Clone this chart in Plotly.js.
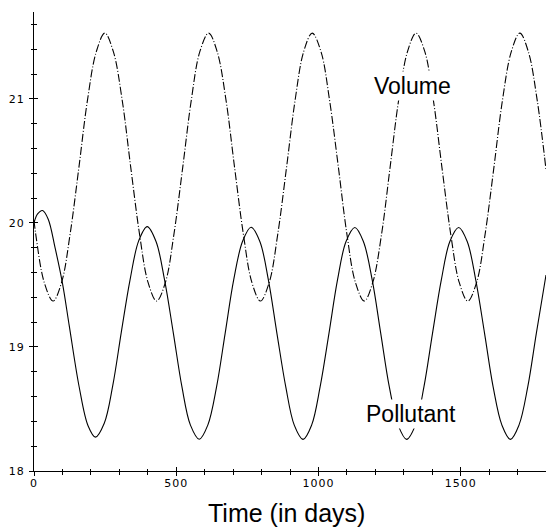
<!DOCTYPE html>
<html>
<head>
<meta charset="utf-8">
<script src="https://cdn.plot.ly/plotly-3.0.1.min.js"></script>
<style>
  html, body { margin: 0; padding: 0; background: #ffffff; }
  #chart { width: 546px; height: 529px; }
  .xtick text, .ytick text { letter-spacing: 1px; }
</style>
</head>
<body>
<div id="chart"></div>
<script>
// Volume curve (dash-dot)
var volumeT = [0, 6, 36, 67, 97, 127, 158, 188, 219, 249, 279, 310, 340, 371, 401, 431, 462, 492, 523, 553, 583, 614,
  644, 675, 705, 736, 766, 796, 827, 857, 888, 918, 948, 978,
  1009, 1039, 1070, 1100, 1130, 1161, 1191, 1222, 1252, 1282, 1313, 1343,
  1374, 1404, 1434, 1465, 1495, 1525, 1556, 1586, 1617, 1647, 1678, 1708,
  1738, 1769, 1800];
var volumeV = [20.02, 19.91, 19.52, 19.37, 19.52, 19.91, 20.45, 20.99, 21.38, 21.53, 21.38, 20.99, 20.45, 19.91, 19.52, 19.37, 19.52, 19.91, 20.45, 20.99, 21.38, 21.53,
  21.38, 20.99, 20.45, 19.91, 19.52, 19.37, 19.52, 19.91, 20.45, 20.99, 21.38, 21.53,
  21.38, 20.99, 20.45, 19.91, 19.52, 19.37, 19.52, 19.91, 20.45, 20.99, 21.38, 21.53,
  21.38, 20.99, 20.45, 19.91, 19.52, 19.37, 19.52, 19.91, 20.45, 20.99, 21.38, 21.53,
  21.38, 20.99, 20.43];

// Pollutant curve (solid)
var pollutantT = [0, 12, 30, 50, 74, 100, 124, 159, 190, 216, 247, 277, 307, 338, 368, 398,
  429, 459, 490, 520, 550, 581, 611, 642, 672, 702, 733, 763,
  794, 824, 854, 885, 915, 946, 976, 1006, 1037, 1067, 1097, 1128,
  1158, 1189, 1219, 1249, 1280, 1310, 1341, 1371, 1401, 1432, 1462, 1493,
  1523, 1553, 1584, 1614, 1645, 1675, 1705, 1736, 1766, 1800];
var pollutantV = [20.00, 20.07, 20.10, 20.03, 19.80, 19.515, 19.17, 18.675, 18.365, 18.273, 18.385, 18.69, 19.12, 19.545, 19.855, 19.97,
  19.85, 19.54, 19.11, 18.68, 18.37, 18.256, 18.37, 18.68, 19.11, 19.54, 19.85, 19.965,
  19.85, 19.54, 19.11, 18.68, 18.37, 18.255, 18.37, 18.68, 19.11, 19.54, 19.85, 19.963,
  19.85, 19.54, 19.11, 18.68, 18.37, 18.255, 18.37, 18.68, 19.11, 19.54, 19.85, 19.963,
  19.85, 19.54, 19.11, 18.68, 18.37, 18.255, 18.37, 18.68, 19.11, 19.58];

var xTickStep = 500, xMinorStep = 100;
var yTickStep = 1, yMinorStep = 0.2;
var xRange = [0, 1800], yRange = [18, 21.7];

var traces = [
  {
    x: volumeT, y: volumeV, type: 'scatter', mode: 'lines', name: 'Volume',
    line: { color: '#000000', width: 1.1, dash: '8px,2px,1px,2px', shape: 'spline' },
    hoverinfo: 'skip'
  },
  {
    x: pollutantT, y: pollutantV, type: 'scatter', mode: 'lines', name: 'Pollutant',
    line: { color: '#000000', width: 1.1, shape: 'spline' },
    hoverinfo: 'skip'
  },
  {
    x: [null], y: [null], xaxis: 'x2', yaxis: 'y2', type: 'scatter', mode: 'lines',
    showlegend: false, hoverinfo: 'skip'
  }
];

var tickFont = { family: 'DejaVu Sans, sans-serif', size: 11, color: '#000000' };

var layout = {
  width: 546, height: 529,
  margin: { l: 34, r: 0, t: 12, b: 58, pad: 0 },
  paper_bgcolor: '#ffffff', plot_bgcolor: '#ffffff',
  showlegend: false,
  xaxis: {
    range: xRange, showline: true, linecolor: '#000000', linewidth: 1,
    ticks: 'outside', ticklen: 4, tickwidth: 1, tickcolor: '#000000',
    tick0: 0, dtick: xTickStep,
    minor: { tick0: 0, dtick: xMinorStep, ticks: 'outside', ticklen: 2.5, tickwidth: 1, tickcolor: '#000000', showgrid: false },
    showgrid: false, zeroline: false, tickfont: tickFont, fixedrange: true,
    ticklabelstandoff: -2
  },
  yaxis: {
    range: yRange, showline: true, linecolor: '#000000', linewidth: 1,
    ticks: 'outside', ticklen: 4, tickwidth: 1, tickcolor: '#000000',
    tick0: 18, dtick: yTickStep,
    minor: { tick0: 18, dtick: yMinorStep, ticks: 'outside', ticklen: 2.5, tickwidth: 1, tickcolor: '#000000', showgrid: false },
    showgrid: false, zeroline: false, tickfont: tickFont, fixedrange: true,
    ticklabelstandoff: 2
  },
  xaxis2: {
    overlaying: 'x', anchor: 'y', side: 'bottom', range: xRange,
    ticks: 'inside', ticklen: 4, tickwidth: 1, tickcolor: '#000000',
    tick0: 0, dtick: xTickStep,
    minor: { tick0: 0, dtick: xMinorStep, ticks: 'inside', ticklen: 2.5, tickwidth: 1, tickcolor: '#000000', showgrid: false },
    showticklabels: false, showline: false, showgrid: false, zeroline: false, fixedrange: true
  },
  yaxis2: {
    overlaying: 'y', anchor: 'x', side: 'left', range: yRange,
    ticks: 'inside', ticklen: 4, tickwidth: 1, tickcolor: '#000000',
    tick0: 18, dtick: yTickStep,
    minor: { tick0: 18, dtick: yMinorStep, ticks: 'inside', ticklen: 2.5, tickwidth: 1, tickcolor: '#000000', showgrid: false },
    showticklabels: false, showline: false, showgrid: false, zeroline: false, fixedrange: true
  },
  annotations: [
    {
      text: 'Volume', xref: 'x', yref: 'y', x: 1330, y: 21.105,
      xanchor: 'center', yanchor: 'middle', showarrow: false,
      bgcolor: '#ffffff', borderpad: 1,
      font: { family: 'Liberation Sans, Arial, sans-serif', size: 23, color: '#000000' }
    },
    {
      text: 'Pollutant', xref: 'x', yref: 'y', x: 1324, y: 18.462,
      xanchor: 'center', yanchor: 'middle', showarrow: false,
      bgcolor: '#ffffff', borderpad: 1,
      font: { family: 'Liberation Sans, Arial, sans-serif', size: 23, color: '#000000' }
    },
    {
      text: 'Time (in days)', xref: 'paper', yref: 'paper', x: 0.4934, y: -0.0922,
      xanchor: 'center', yanchor: 'middle', showarrow: false,
      font: { family: 'Liberation Sans, Arial, sans-serif', size: 25, color: '#000000' }
    }
  ]
};

Plotly.newPlot('chart', traces, layout, { displayModeBar: false, staticPlot: true });
</script>
</body>
</html>
